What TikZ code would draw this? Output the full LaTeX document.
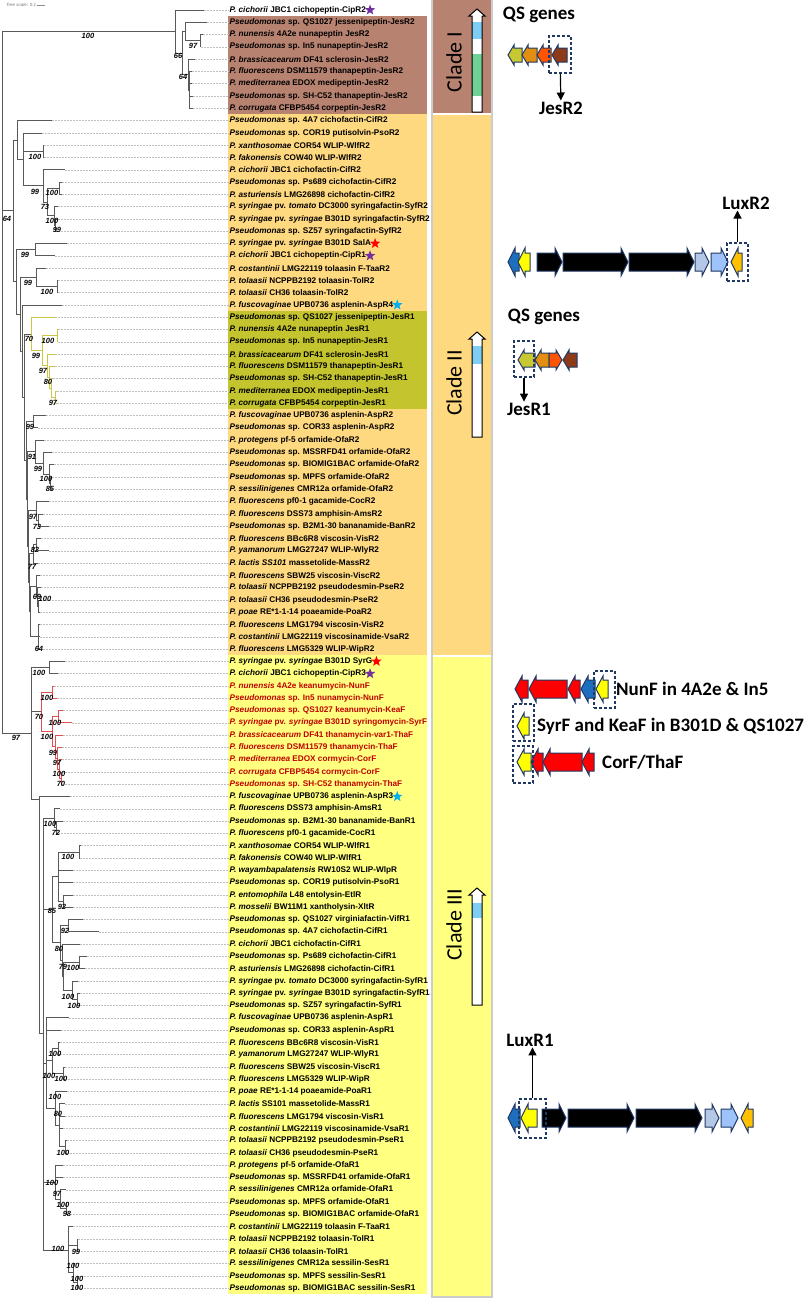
\documentclass[tikz,border=0pt]{standalone}
\usepackage{fontspec}
\setmainfont{Liberation Sans}
\newfontfamily\calib{Carlito}
\usetikzlibrary{arrows.meta,positioning,shapes.geometric}

\definecolor{clbrown}{RGB}{184,130,112}
\definecolor{clorange}{RGB}{255,217,128}
\definecolor{clolive}{RGB}{196,196,46}
\definecolor{clyellow}{RGB}{255,255,128}
\definecolor{navy}{RGB}{31,56,100}
\definecolor{qsolive}{RGB}{200,200,50}
\definecolor{qsorange}{RGB}{226,142,16}
\definecolor{qsred}{RGB}{255,85,0}
\definecolor{qsbrown}{RGB}{140,58,26}
\definecolor{gblue}{RGB}{30,110,190}
\definecolor{gyellow}{RGB}{255,255,0}
\definecolor{glav}{RGB}{180,199,231}
\definecolor{glight}{RGB}{157,195,250}
\definecolor{gorange}{RGB}{255,192,0}
\definecolor{gred}{RGB}{255,0,0}
\definecolor{barblue}{RGB}{125,205,245}
\definecolor{bargreen}{RGB}{110,210,150}
\definecolor{labred}{RGB}{192,0,0}
\definecolor{brred}{RGB}{225,80,80}
\definecolor{brolive}{RGB}{200,200,70}
\definecolor{stpurple}{RGB}{112,48,160}
\definecolor{stred}{RGB}{255,0,0}
\definecolor{stcyan}{RGB}{0,176,240}

% gene arrows: x1 x2 y colour
\def\ghl{6}\def\ghh{10}\def\ghb{7}
\newcommand{\geneL}[4]{\draw[gene,fill=#4] (#1,#3) -- ++(\ghl,\ghh) -- ++(0,-\ghh+\ghb) -- (#2,#3+\ghb) -- (#2,#3-\ghb) -- (#1+\ghl,#3-\ghb) -- ++(0,-\ghh+\ghb) -- cycle;}
\newcommand{\geneR}[4]{\draw[gene,fill=#4] (#2,#3) -- ++(-\ghl,\ghh) -- ++(0,-\ghh+\ghb) -- (#1,#3+\ghb) -- (#1,#3-\ghb) -- (#2-\ghl,#3-\ghb) -- ++(0,-\ghh+\ghb) -- cycle;}

\begin{document}
\begin{tikzpicture}[x=1pt, y=-1pt,
    declare function={ry(\k)=12.29*\k-2.29;},
    br/.style={draw=black!65, line width=0.75pt},
    brolv/.style={draw=brolive, line width=0.75pt},
    brrd/.style={draw=brred, line width=0.75pt},
    lead/.style={draw=black!25, line width=0.5pt, dash pattern=on 1.5pt off 1.5pt},
    lab/.style={anchor=west, inner sep=0.5pt, font=\fontsize{8.2}{9.8}\selectfont\bfseries},
    bs/.style={inner sep=0pt, font=\fontsize{7.5}{8}\selectfont\bfseries\itshape},
    starmk/.style={star, star points=5, star point ratio=2.4, minimum size=11pt, inner sep=0pt},
    gene/.style={draw=navy, line width=1pt, line join=miter},
    qsbox/.style={draw=navy, line width=1.3pt, dash pattern=on 3pt off 2pt, inner sep=0pt},
    glab/.style={font=\calib\bfseries\fontsize{19}{21}\selectfont, inner sep=1pt},
    clade/.style={rotate=90, font=\calib\fontsize{22}{24}\selectfont},
    bar/.style={draw=black, line width=1pt},
    qsarrow/.style={-{Triangle[length=8pt,width=8pt]}, line width=1.2pt}
]
\useasboundingbox (0,0) rectangle (809,1299);

% label panels
\fill[clbrown] (228,{ry(1.5)}) rectangle (427,{ry(9.5)});
\fill[clorange] (228,{ry(9.5)}) rectangle (427,{ry(25.5)});
\fill[clolive] (228,{ry(25.5)}) rectangle (427,{ry(33.5)});
\fill[clorange] (228,{ry(33.5)}) rectangle (427,{ry(53.5)});
\fill[clyellow] (228,{ry(53.5)}) rectangle (427,{ry(105.5)});

% clade column
\fill[clbrown] (433,0) rectangle (491,113);
\fill[clorange] (433,115) rectangle (491,655);
\fill[clyellow] (433,657) rectangle (491,1296);
\draw[black!20, line width=1.5pt] (432,0) -- (432,1297) -- (492,1297) -- (492,0);

\node[font=\fontsize{4.5}{5}\selectfont\itshape, text=black!55, anchor=west, inner sep=0pt] (tsc) at (6,5) {Tree scale: 0.1};
\draw[black!45, line width=0.4pt] ([xshift=1pt]tsc.east) -- ++(8,0);

% leaves
\foreach \rw/\tx/\lab in {
  1/204/{\textit{P. cichorii} JBC1 cichopeptin-CipR2},
  2/207/{\textit{Pseudomonas} sp. QS1027 jessenipeptin-JesR2},
  3/203/{\textit{P. nunensis} 4A2e nunapeptin JesR2},
  4/201/{\textit{Pseudomonas} sp. In5 nunapeptin-JesR2},
  5/195/{\textit{P. brassicacearum} DF41 sclerosin-JesR2},
  6/192/{\textit{P. fluorescens} DSM11579 thanapeptin-JesR2},
  7/192/{\textit{P. mediterranea} EDOX medipeptin-JesR2},
  8/193/{\textit{Pseudomonas} sp. SH-C52 thanapeptin-JesR2},
  9/193/{\textit{P. corrugata} CFBP5454 corpeptin-JesR2},
  10/52/{\textit{Pseudomonas} sp. 4A7 cichofactin-CifR2},
  11/42/{\textit{Pseudomonas} sp. COR19 putisolvin-PsoR2},
  12/44/{\textit{P. xanthosomae} COR54 WLIP-WlfR2},
  13/44/{\textit{P. fakonensis} COW40 WLIP-WlfR2},
  14/65/{\textit{P. cichorii} JBC1 cichofactin-CifR2},
  15/62/{\textit{Pseudomonas} sp. Ps689 cichofactin-CifR2},
  16/62/{\textit{P. asturiensis} LMG26898 cichofactin-CifR2},
  17/58/{\textit{P. syringae} pv. \textit{tomato} DC3000 syringafactin-SyfR2},
  18/58/{\textit{P. syringae} pv. \textit{syringae} B301D syringafactin-SyfR2},
  19/58/{\textit{Pseudomonas} sp. SZ57 syringafactin-SyfR2},
  20/67/{\textit{P. syringae} pv. \textit{syringae} B301D SalA},
  21/55/{\textit{P. cichorii} JBC1 cichopeptin-CipR1},
  22/46/{\textit{P. costantinii} LMG22119 tolaasin F-TaaR2},
  23/58/{\textit{P. tolaasii} NCPPB2192 tolaasin-TolR2},
  24/58/{\textit{P. tolaasii} CH36 tolaasin-TolR2},
  25/62/{\textit{P. fuscovaginae} UPB0736 asplenin-AspR4},
  26/55/{\textit{Pseudomonas} sp. QS1027 jessenipeptin-JesR1},
  27/58/{\textit{P. nunensis} 4A2e nunapeptin JesR1},
  28/58/{\textit{Pseudomonas} sp. In5 nunapeptin-JesR1},
  29/55/{\textit{P. brassicacearum} DF41 sclerosin-JesR1},
  30/55/{\textit{P. fluorescens} DSM11579 thanapeptin-JesR1},
  31/53/{\textit{Pseudomonas} sp. SH-C52 thanapeptin-JesR1},
  32/57/{\textit{P. mediterranea} EDOX medipeptin-JesR1},
  33/57/{\textit{P. corrugata} CFBP5454 corpeptin-JesR1},
  34/46/{\textit{P. fuscovaginae} UPB0736 asplenin-AspR2},
  35/38/{\textit{Pseudomonas} sp. COR33 asplenin-AspR2},
  36/44/{\textit{P. protegens} pf-5 orfamide-OfaR2},
  37/52/{\textit{Pseudomonas} sp. MSSRFD41 orfamide-OfaR2},
  38/54/{\textit{Pseudomonas} sp. BIOMIG1BAC orfamide-OfaR2},
  39/52/{\textit{Pseudomonas} sp. MPFS orfamide-OfaR2},
  40/52/{\textit{P. sessilinigenes} CMR12a orfamide-OfaR2},
  41/49/{\textit{P. fluorescens} pf0-1 gacamide-CocR2},
  42/43/{\textit{P. fluorescens} DSS73 amphisin-AmsR2},
  43/49/{\textit{Pseudomonas} sp. B2M1-30 bananamide-BanR2},
  44/41/{\textit{P. fluorescens} BBc6R8 viscosin-VisR2},
  45/49/{\textit{P. yamanorum} LMG27247 WLIP-WlyR2},
  46/38/{\textit{P. lactis SS101} massetolide-MassR2},
  47/40/{\textit{P. fluorescens} SBW25 viscosin-ViscR2},
  48/41/{\textit{P. tolaasii} NCPPB2192 pseudodesmin-PseR2},
  49/40/{\textit{P. tolaasii} CH36 pseudodesmin-PseR2},
  50/40/{\textit{P. poae} RE*1-1-14 poaeamide-PoaR2},
  51/40/{\textit{P. fluorescens} LMG1794 viscosin-VisR2},
  52/40/{\textit{P. costantinii} LMG22119 viscosinamide-VsaR2},
  53/40/{\textit{P. fluorescens} LMG5329 WLIP-WipR2},
  54/65/{\textit{P. syringae} pv. \textit{syringae} B301D SyrG},
  55/58/{\textit{P. cichorii} JBC1 cichopeptin-CipR3},
  65/70/{\textit{P. fuscovaginae} UPB0736 asplenin-AspR3},
  66/60/{\textit{P. fluorescens} DSS73 amphisin-AmsR1},
  67/63/{\textit{Pseudomonas} sp. B2M1-30 bananamide-BanR1},
  68/58/{\textit{P. fluorescens} pf0-1 gacamide-CocR1},
  69/81/{\textit{P. xanthosomae} COR54 WLIP-WlfR1},
  70/80/{\textit{P. fakonensis} COW40 WLIP-WlfR1},
  71/73/{\textit{P. wayambapalatensis} RW10S2 WLIP-WlpR},
  72/73/{\textit{Pseudomonas} sp. COR19 putisolvin-PsoR1},
  73/73/{\textit{P. entomophila} L48 entolysin-EtlR},
  74/73/{\textit{P. mosselii} BW11M1 xantholysin-XltR},
  75/83/{\textit{Pseudomonas} sp. QS1027 virginiafactin-VifR1},
  76/99/{\textit{Pseudomonas} sp. 4A7 cichofactin-CifR1},
  77/80/{\textit{P. cichorii} JBC1 cichofactin-CifR1},
  78/87/{\textit{Pseudomonas} sp. Ps689 cichofactin-CifR1},
  79/85/{\textit{P. asturiensis} LMG26898 cichofactin-CifR1},
  80/78/{\textit{P. syringae} pv. \textit{tomato} DC3000 syringafactin-SyfR1},
  81/80/{\textit{P. syringae} pv. \textit{syringae} B301D syringafactin-SyfR1},
  82/80/{\textit{Pseudomonas} sp. SZ57 syringafactin-SyfR1},
  83/69/{\textit{P. fuscovaginae} UPB0736 asplenin-AspR1},
  84/61/{\textit{Pseudomonas} sp. COR33 asplenin-AspR1},
  85/60/{\textit{P. fluorescens} BBc6R8 viscosin-VisR1},
  86/60/{\textit{P. yamanorum} LMG27247 WLIP-WlyR1},
  87/65/{\textit{P. fluorescens} SBW25 viscosin-ViscR1},
  88/65/{\textit{P. fluorescens} LMG5329 WLIP-WipR},
  89/67/{\textit{P. poae} RE*1-1-14 poaeamide-PoaR1},
  90/65/{\textit{P. lactis} SS101 massetolide-MassR1},
  91/65/{\textit{P. fluorescens} LMG1794 viscosin-VisR1},
  92/63/{\textit{P. costantinii} LMG22119 viscosinamide-VsaR1},
  93/67/{\textit{P. tolaasii} NCPPB2192 pseudodesmin-PseR1},
  94/67/{\textit{P. tolaasii} CH36 pseudodesmin-PseR1},
  95/63/{\textit{P. protegens} pf-5 orfamide-OfaR1},
  96/63/{\textit{Pseudomonas} sp. MSSRFD41 orfamide-OfaR1},
  97/66/{\textit{P. sessilinigenes} CMR12a orfamide-OfaR1},
  98/67/{\textit{Pseudomonas} sp. MPFS orfamide-OfaR1},
  99/67/{\textit{Pseudomonas} sp. BIOMIG1BAC orfamide-OfaR1},
  100/73/{\textit{P. costantinii} LMG22119 tolaasin F-TaaR1},
  101/78/{\textit{P. tolaasii} NCPPB2192 tolaasin-TolR1},
  102/78/{\textit{P. tolaasii} CH36 tolaasin-TolR1},
  103/75/{\textit{P. sessilinigenes} CMR12a sessilin-SesR1},
  104/78/{\textit{Pseudomonas} sp. MPFS sessilin-SesR1},
  105/78/{\textit{Pseudomonas} sp. BIOMIG1BAC sessilin-SesR1}}
{
  \coordinate (t\rw) at (\tx,{ry(\rw)});
  \node[lab] (l\rw) at (229,{ry(\rw)}) {\lab};
  \draw[lead] (t\rw) -- (l\rw.west);
}
% syringomycin-type F genes
\foreach \rw/\tx/\lab in {
  56/54/{\textit{P. nunensis} 4A2e keanumycin-NunF},
  57/57/{\textit{Pseudomonas} sp. In5 nunamycin-NunF},
  58/63/{\textit{Pseudomonas} sp. QS1027 keanumycin-KeaF},
  59/72/{\textit{P. syringae} pv. \textit{syringae} B301D syringomycin-SyrF},
  60/63/{\textit{P. brassicacearum} DF41 thanamycin-var1-ThaF},
  61/62/{\textit{P. fluorescens} DSM11579 thanamycin-ThaF},
  62/62/{\textit{P. mediterranea} EDOX cormycin-CorF},
  63/62/{\textit{P. corrugata} CFBP5454 cormycin-CorF},
  64/62/{\textit{Pseudomonas} sp. SH-C52 thanamycin-ThaF}}
{
  \coordinate (t\rw) at (\tx,{ry(\rw)});
  \node[lab, text=labred] (l\rw) at (229,{ry(\rw)}) {\lab};
  \draw[lead] (t\rw) -- (l\rw.west);
}

\node[starmk, fill=stpurple, right=0pt of l1] (st1) {};
\node[starmk, fill=stred, right=0pt of l20] (st20) {};
\node[starmk, fill=stpurple, right=0pt of l21] (st21) {};
\node[starmk, fill=stcyan, right=0pt of l25] (st25) {};
\node[starmk, fill=stred, right=0pt of l54] (st54) {};
\node[starmk, fill=stpurple, right=0pt of l55] (st55) {};
\node[starmk, fill=stcyan, right=0pt of l65] (st65) {};

% inner nodes of the tree
\foreach \n/\nx/\nr in {rt/2/31.3,
  ca/175/2.75, cb/182/4.5, cc/185/2.75, ce/200/3.5, cd/188/6.25, cf/189/7.5,
  c2/13/17.3, n10/17/11.58, n11/23/13.16, n13/43/12.5, n14/43/15.31, n15/47/16.625,
  n16/59/15.5, n17/54/17.75, n18/55/18.5,
  m1/16/23.1, p20/35/20.5, m2/20/25.75, p22/36/22.75, p23/57/23.5, m3/22/28.75, m4/24/32.5,
  o26/31/27.36, o27/42/28.72, o28/57/27.5, o29/47/29.94, o30/49/30.875, o31/51/31.75, o32/55/32.5,
  m5/26/37.65, q34/33/34.5, m6/27/40.8, q36/35/36.94, q37/43/37.875, q38/49/38.75, q39/50/39.5,
  m7/28/44.67, r41/36/41.75, r42/38/42.5, m8/29/47.6, s46/33/45.25, s44/36/44.5,
  m9/30/49.94, u47/36/47.875, u48/37/48.75, u49/38/49.5, u51/38/52,
  c3/31/59.85, v54/49/54.5, v55/41/58.1, v56/52/56.5, v57/52/59.72, v58/58/58.5,
  v60/55/60.94, v61/57/61.875, v62/59/62.75, v63/61/63.5,
  w1/39/65.2, w2/43/84.3, y66/54/66.75, y67/56/67.5, y85/52/74.2, y70/58/71.5, y69/79/69.5,
  y73/63/73.5, yb/60/76.9, y75/68/75.5, y77/62/78.3, y79/63/79.6, y78/79/78.5, y80/72/80.75, y81/77/81.5,
  z83/46/86.7, z85/52/86.5, z86/58/85.5, z88/63/87.5, z89/55/90.4, z90/59/91.75, z93/65/93.5,
  z95/55/96.4, z97/60/97.75, z98/66/98.5, z100/68/101.9, z101/77/101.5, z103/73/103.75, z104/77/104.5}
  \coordinate (\n) at (\nx,{ry(\nr)});

% branches
\foreach \p/\c in {rt/ca, rt/c2, rt/c3,
  ca/t1, ca/cb, cb/cc, cb/cd, cc/t2, cc/ce, ce/t3, ce/t4, cd/t5, cd/cf, cf/t6, cf/t7, cf/t8, cf/t9,
  c2/n10, c2/m1, n10/t10, n10/n11, n11/t11, n11/n13, n11/n14, n13/t12, n13/t13, n14/t14, n14/n15,
  n15/n16, n15/n17, n16/t15, n16/t16, n17/t17, n17/n18, n18/t18, n18/t19,
  m1/p20, m1/m2, p20/t20, p20/t21, m2/p22, m2/m3, p22/t22, p22/p23, p23/t23, p23/t24,
  m3/t25, m3/m4, m4/o26, m4/m5,
  m5/q34, m5/m6, q34/t34, q34/t35, m6/q36, m6/m7, q36/t36, q36/q37, q37/t37, q37/q38,
  q38/t38, q38/q39, q39/t39, q39/t40,
  m7/r41, m7/m8, r41/t41, r41/r42, r42/t42, r42/t43, m8/s46, m8/m9, s46/s44, s46/t46,
  s44/t44, s44/t45, m9/u47, m9/u51, u47/t47, u47/u48, u48/t48, u48/u49, u49/t49, u49/t50,
  u51/t51, u51/t52, u51/t53,
  c3/v54, c3/v55, c3/w1, v54/t54, v54/t55, w1/t65, w1/w2,
  w2/y66, w2/y85, w2/z83, w2/z95, w2/z100,
  y66/t66, y66/y67, y67/t67, y67/t68, y85/y70, y85/yb, y70/y69, y70/t71, y70/t72, y70/y73,
  y69/t69, y69/t70, y73/t73, y73/t74, yb/y75, yb/y77, y75/t75, y75/t76, y77/t77, y77/y79,
  y79/y78, y79/y80, y78/t78, y78/t79, y80/t80, y80/y81, y81/t81, y81/t82,
  z83/t83, z83/t84, z83/z85, z83/z89, z85/z86, z85/z88, z86/t85, z86/t86, z88/t87, z88/t88,
  z89/t89, z89/z90, z90/t90, z90/t91, z90/t92, z90/z93, z93/t93, z93/t94,
  z95/t95, z95/t96, z95/z97, z97/t97, z97/z98, z98/t98, z98/t99,
  z100/t100, z100/z101, z100/z103, z101/t101, z101/t102, z103/t103, z103/z104, z104/t104, z104/t105}
  \draw[br] (\p) |- (\c);
\foreach \p/\c in {o26/t26, o26/o27, o27/o28, o27/o29, o28/t27, o28/t28, o29/t29, o29/o30,
  o30/t30, o30/o31, o31/t31, o31/o32, o32/t32, o32/t33}
  \draw[brolv] (\p) |- (\c);
\foreach \p/\c in {v55/v56, v55/v57, v56/t56, v56/t57, v57/v58, v57/v60, v58/t58, v58/t59,
  v60/t60, v60/v61, v61/t61, v61/v62, v62/t62, v62/v63, v63/t63, v63/t64}
  \draw[brrd] (\p) |- (\c);

% bootstrap values
\foreach \bx/\by/\bv [count=\k] in {88/36/100, 178/56/66, 193/46/97, 183/77/64,
  7/219/64, 35/157/100, 35/192/99, 52/193/100, 45/207/73, 52/221/100, 57/230/99,
  25/255/99, 28/283/99, 47/292/100, 29/339/70, 48/341/100, 36/356/99, 43/371/97,
  48/382/80, 53/403/97, 30/427/99, 32/457/91, 38/469/99, 46/479/100, 50/489/85,
  33/517/97, 37/527/73, 35/550/82, 32/567/77, 37/597/69, 45/599/100, 39/649/64,
  16/738/97, 39/673/100, 47/698/100, 39/717/70, 55/723/100, 47/737/100, 53/753/99,
  57/763/97, 59/774/100, 61/784/70, 50/824/100, 56/833/72, 68/857/100,
  62/907/92, 52/911/85, 65/931/92, 59/949/80, 63/967/79, 73/968/100, 68/997/100,
  74/1006/100, 55/1054/100, 49/1076/100, 61/1079/100, 55/1097/100, 58/1114/80,
  63/1153/100, 52/1183/100, 57/1194/97, 63/1205/100, 67/1214/98, 58/1249/100,
  76/1252/99, 73/1266/100, 77/1279/100, 77/1288/100}
  \node[bs] (bs\k) at (\bx,\by) {\bv};

% clade bars
\foreach \top/\bot in {9/112, 332/437, 888/1005}
  \fill[white] (472,\bot) -- (472,\top+7) -- (469,\top+7) -- (477,\top) -- (485,\top+7) -- (482,\top+7) -- (482,\bot) -- cycle;
\fill[barblue] (472,22) rectangle (482,39);
\fill[bargreen] (472,54) rectangle (482,96);
\fill[barblue] (472,346) rectangle (482,364);
\fill[barblue] (472,903) rectangle (482,918);
\foreach \top/\bot in {9/112, 332/437, 888/1005}
  \draw[bar] (472,\bot) -- (472,\top+7) -- (469,\top+7) -- (477,\top) -- (485,\top+7) -- (482,\top+7) -- (482,\bot) -- cycle;

\node[clade] (cl1) at (454,62) {Clade I};
\node[clade] (cl2) at (454,383) {Clade II};
\node[clade] (cl3) at (454,925) {Clade III};

% QS genes, clade I
\node[glab] (qs1) at (539,15) {QS genes};
\geneL{508}{522}{55}{qsolive}
\geneL{522}{537}{55}{qsorange}
\geneL{537}{551}{55}{qsred}
\geneL{552}{567}{55}{qsbrown}
\node[qsbox, minimum width=22pt, minimum height=37pt] (bxjes2) at (560,54.5) {};
\node[glab] (jes2) at (561,108) {JesR2};
\draw[qsarrow] (bxjes2) -- (jes2);

% QS genes, clade II
\node[glab] (qs2) at (544,317) {QS genes};
\geneL{518}{535}{360}{qsolive}
\geneL{535}{549}{360}{qsorange}
\geneR{549}{562}{360}{qsred}
\geneL{563}{577}{360}{qsbrown}
\node[qsbox, minimum width=20pt, minimum height=36pt] (bxjes1) at (524,359) {};
\node[glab] (jes1) at (529,409) {JesR1};
\draw[qsarrow] (bxjes1.south) -- (bxjes1.south |- jes1.north);

% LuxR2 cluster
\def\ghl{7}\def\ghh{14}\def\ghb{9}
\geneL{508}{519}{262}{gblue}
\geneL{518}{530}{262}{gyellow}
\geneR{537}{562}{262}{black}
\geneR{563}{628}{262}{black}
\geneR{629}{694}{262}{black}
\geneR{695}{709}{262}{glav}
\geneR{711}{728}{262}{glight}
\geneL{731}{742}{262}{gorange}
\node[qsbox, minimum width=21pt, minimum height=38pt] (bxlux2) at (737.5,262) {};
\node[glab] (lux2) at (746,203) {LuxR2};
\draw[qsarrow] (bxlux2.north) -- (bxlux2.north |- lux2.south);

% F genes, clade III
\def\ghh{13}
\geneL{515}{528}{689}{gred}
\geneL{529}{567}{689}{gred}
\geneL{568}{580}{689}{gred}
\geneL{581}{595}{689}{gblue}
\geneL{596}{608}{689}{gyellow}
\geneL{517}{529}{726}{gyellow}
\geneL{517}{531}{762}{gyellow}
\geneL{531}{543}{762}{gred}
\geneL{543}{582}{762}{gred}
\geneL{582}{594}{762}{gred}
\node[qsbox, minimum width=21pt, minimum height=37pt] (bxnun) at (604.5,689.5) {};
\node[qsbox, minimum width=21pt, minimum height=37pt] (bxsyr) at (523.5,722.5) {};
\node[qsbox, minimum width=20pt, minimum height=37pt] (bxcor) at (523,764.5) {};
\node[glab, anchor=west] (nunf) at (615,689) {NunF in 4A2e \& In5};
\node[glab, anchor=west] (syrf) at (536,726) {SyrF and KeaF in B301D \& QS1027};
\node[glab, anchor=west] (corf) at (601,762) {CorF/ThaF};

% LuxR1 cluster
\def\ghh{14}
\geneL{508}{520}{1118}{gblue}
\geneL{521}{537}{1118}{gyellow}
\geneR{542}{566}{1118}{black}
\geneR{568}{634}{1118}{black}
\geneR{636}{702}{1118}{black}
\geneR{705}{719}{1118}{glav}
\geneR{721}{738}{1118}{glight}
\geneL{741}{753}{1118}{gorange}
\node[qsbox, minimum width=27pt, minimum height=39pt] (bxlux1) at (532.5,1118.5) {};
\node[glab] (lux1) at (530,1040) {LuxR1};
\draw[qsarrow] (bxlux1.north) -- (bxlux1.north |- lux1.south);
\end{tikzpicture}
\end{document}
